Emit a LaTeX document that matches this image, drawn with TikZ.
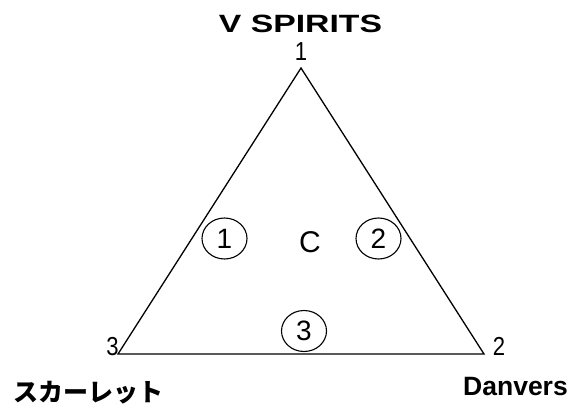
\documentclass[tikz,border=0pt]{standalone}
\usepackage{fontspec}
\usepackage{graphicx}
\setmainfont{Liberation Sans}
\newfontfamily\jp{Noto Sans CJK JP}
\usetikzlibrary{shapes.geometric}
\tikzset{
  edge/.style={line width=1.3pt, line join=miter},
  vtx/.style={inner sep=0pt, anchor=base, font=\fontsize{26}{26}\selectfont},
  circnum/.style={draw, ellipse, line width=1.1pt, inner sep=0pt,
    minimum width=45pt, minimum height=41pt, font=\fontsize{28}{28}\selectfont},
  title/.style={inner sep=0pt, font=\fontsize{25}{25}\selectfont\bfseries}
}
\begin{document}
\begin{tikzpicture}[x=1pt,y=-1pt]
\useasboundingbox (0,0) rectangle (573,410);
\coordinate (A) at (301,68);
\coordinate (B) at (118,354);
\coordinate (C) at (484,354);
\draw[edge] (A) -- (B) -- (C) -- cycle;
\node[title, anchor=base] (vs) at (300.5,32) {\scalebox{1.35}[1]{V SPIRITS}};
\node[vtx] (n1) at (301,60) {\scalebox{0.85}[1]{1}};
\node[vtx] (n3) at (112.5,355) {\scalebox{0.85}[1]{3}};
\node[vtx] (n2) at (499,355) {\scalebox{0.85}[1]{2}};
\node[circnum] (c1) at (224.5,238.5) {1};
\node[circnum] (c2) at (378.5,238.5) {2};
\node[circnum] (c3) at (304,331) {3};
\node[inner sep=0pt, anchor=base, font=\fontsize{30}{30}\selectfont] (cc) at (310,252) {C};
\node[inner sep=0pt, anchor=base west, font=\fontsize{25}{25}\selectfont\jp\bfseries] (sc) at (13,401) {スカーレット};
\node[title, anchor=base east, font=\fontsize{26.5}{26.5}\selectfont\bfseries] (dv) at (568,395) {Danvers};
\end{tikzpicture}
\end{document}
